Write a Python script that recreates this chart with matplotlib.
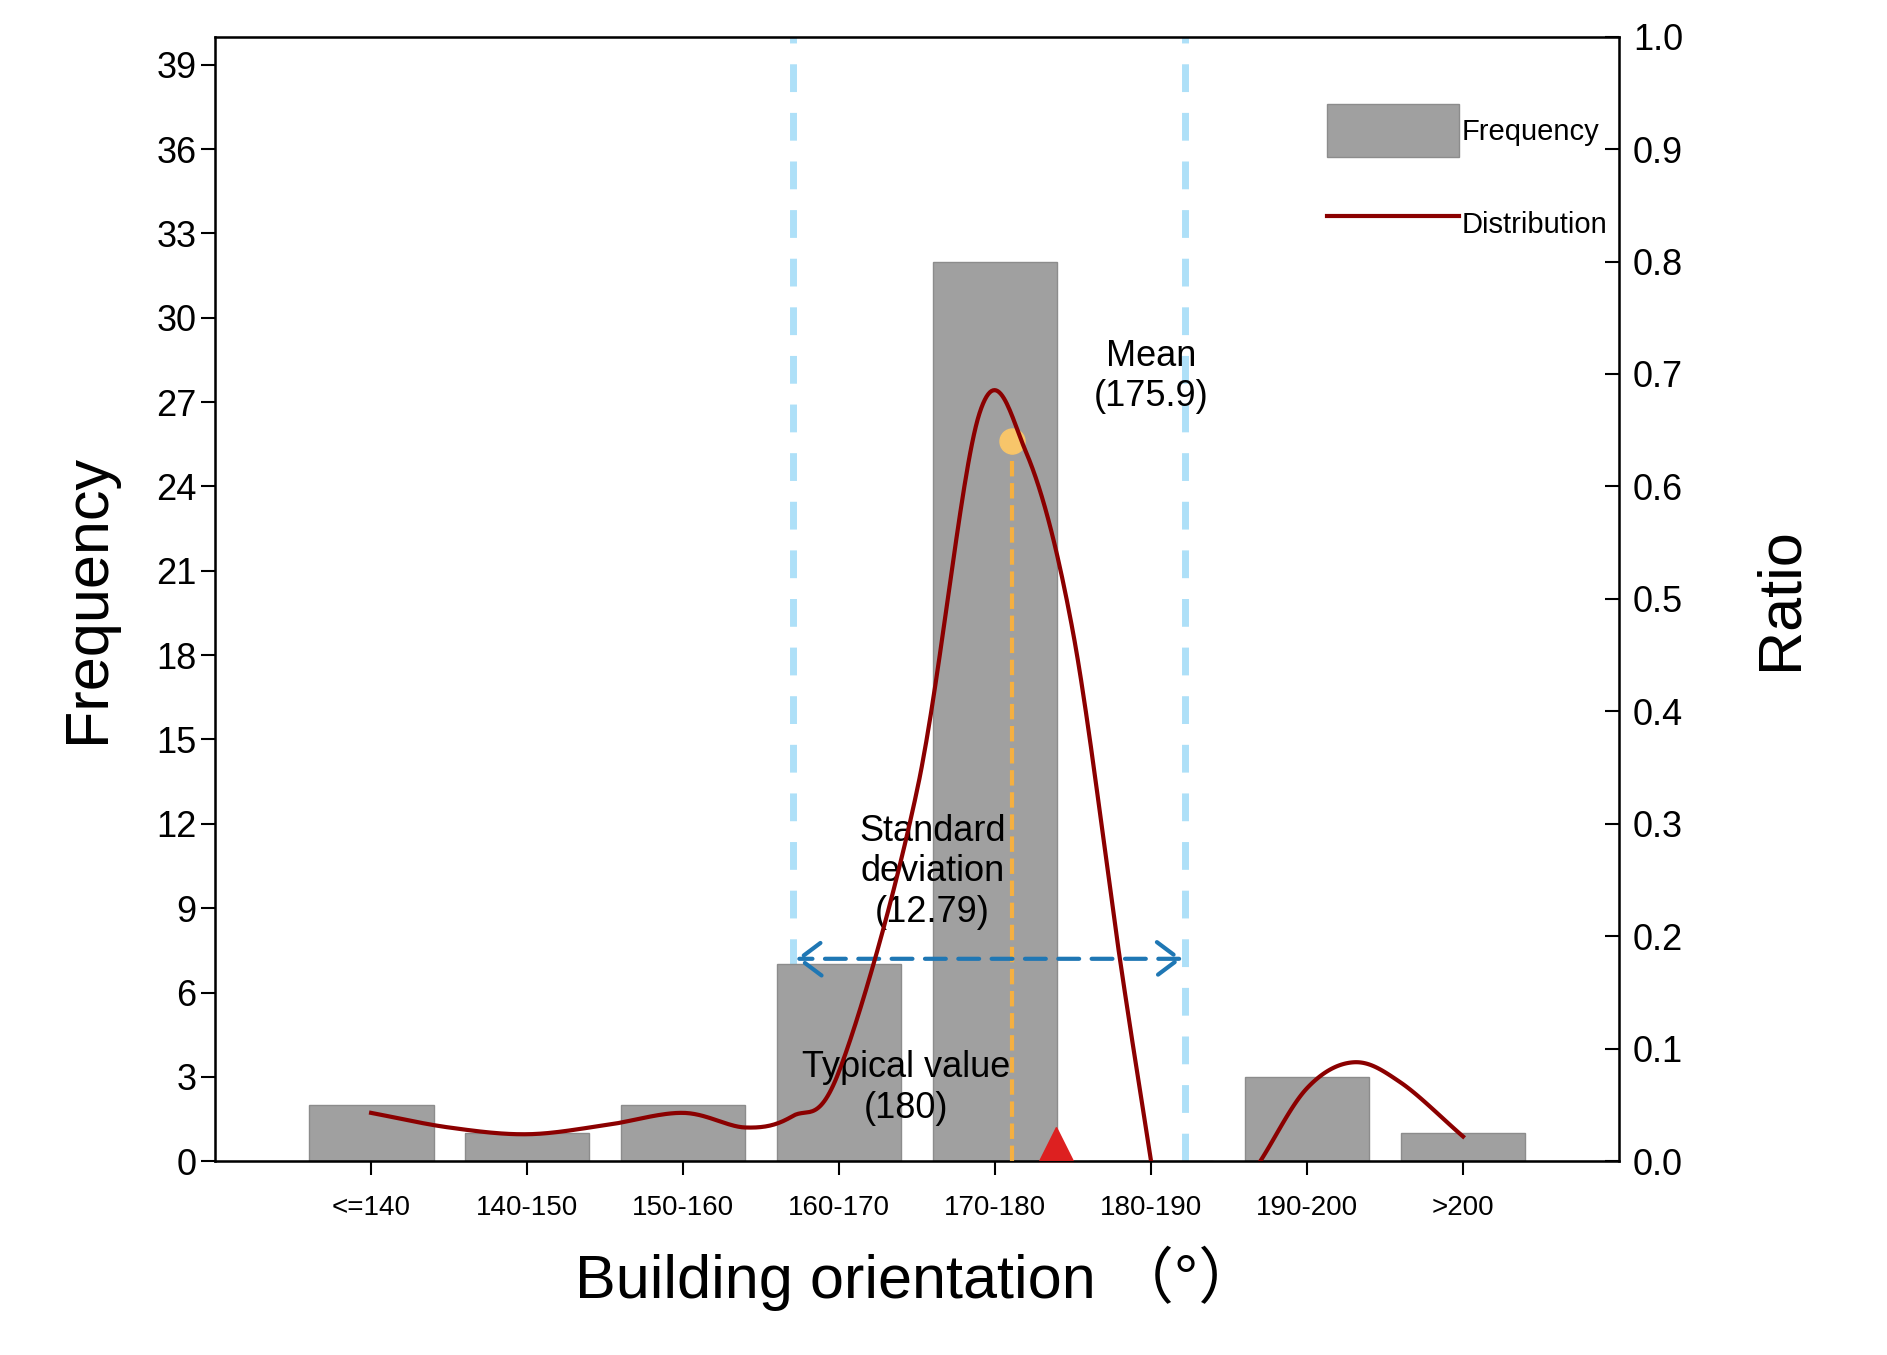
import matplotlib
matplotlib.use("Agg")
import matplotlib.pyplot as plt
import numpy as np
from matplotlib.patches import Patch
from matplotlib.lines import Line2D

plt.rcParams['font.family'] = ['Liberation Sans', 'DejaVu Sans']

categories = ["<=140", "140-150", "150-160", "160-170", "170-180", "180-190", "190-200", ">200"]
frequency = [2, 1, 2, 7, 32, 0, 3, 1]
# distribution curve knots (category position, ratio)
dist1_x = [0, 0.5, 1, 1.5, 2, 2.4, 2.7, 3, 3.5, 3.9, 4.2, 4.5, 4.8, 5.0]
dist1_y = [0.043, 0.030, 0.024, 0.032, 0.043, 0.030, 0.040, 0.080, 0.33, 0.665, 0.63, 0.47, 0.18, 0.0]
dist2_x = [5.7, 6.0, 6.3, 6.6, 7.0]
dist2_y = [0.0, 0.065, 0.088, 0.070, 0.022]
sd_lo, sd_hi = 2.705, 5.22
mean_x, mean_y = 4.11, 25.6
typical_x = 4.39

def smooth(xs, ys, n=30):
    xs = np.asarray(xs, float); ys = np.asarray(ys, float)
    px = np.concatenate([[2*xs[0]-xs[1]], xs, [2*xs[-1]-xs[-2]]])
    py = np.concatenate([[2*ys[0]-ys[1]], ys, [2*ys[-1]-ys[-2]]])
    ox, oy = [], []
    for i in range(1, len(px)-2):
        t = np.linspace(0, 1, n, endpoint=False)
        for arr, out in ((px, ox), (py, oy)):
            p0, p1, p2, p3 = arr[i-1], arr[i], arr[i+1], arr[i+2]
            out.extend(0.5*((2*p1) + (-p0+p2)*t + (2*p0-5*p1+4*p2-p3)*t**2 + (-p0+3*p1-3*p2+p3)*t**3))
    ox.append(xs[-1]); oy.append(ys[-1])
    return np.array(ox), np.array(oy)

fig = plt.figure(figsize=(18.87, 13.55), dpi=100)
ax = fig.add_axes([0.114, 0.143, 0.744, 0.830])
x = np.arange(len(categories))
ax.bar(x, frequency, width=0.8, color="#a0a0a0", edgecolor="#8c8c8c", zorder=2)
ax.set_xlim(-1, 8)
ax.set_ylim(0, 40)
ax.set_yticks(np.arange(0, 40, 3))
ax.set_xticks(x)
ax.set_xticklabels(categories, fontsize=20)
ax.tick_params(axis="y", labelsize=26, length=10, width=1.5)
ax.tick_params(axis="x", length=10, width=1.5, pad=14)
for s in ax.spines.values():
    s.set_linewidth(1.8)
ax.set_ylabel("Frequency", fontsize=44, labelpad=28)
ax.set_xlabel("Building orientation （°）", fontsize=44, labelpad=18,
              family=["Liberation Sans", "Noto Sans CJK SC", "DejaVu Sans"])

ax.axvline(sd_lo, color="#aee0f8", ls=(0, (4, 3)), lw=5, zorder=1)
ax.axvline(sd_hi, color="#aee0f8", ls=(0, (4, 3)), lw=5, zorder=1)
ax.plot([mean_x, mean_x], [0, mean_y], color="#f5b041", ls="--", lw=3, zorder=3)
ax.plot(mean_x, mean_y, "o", color="#f7c56a", ms=18, zorder=5)
ax.plot(typical_x, 0.6, "^", color="#dd2020", ms=24, zorder=5, clip_on=False)
ax.annotate("", xy=(sd_lo, 7.2), xytext=(sd_hi, 7.2),
            arrowprops=dict(arrowstyle="<->,head_length=0.8,head_width=0.6", color="#1f77b4",
                            lw=3, ls=(0, (5, 3)), mutation_scale=20), zorder=4)
ax.text(5.0, 27.9, "Mean\n(175.9)", fontsize=26, ha="center", va="center", zorder=6)
ax.text(3.6, 10.3, "Standard\ndeviation\n(12.79)", fontsize=26, ha="center", va="center", zorder=6)
ax.text(3.43, 2.6, "Typical value\n(180)", fontsize=26, ha="center", va="center", zorder=6)

ax2 = ax.twinx()
ax2.set_ylim(0, 1.0)
ax2.set_yticks(np.arange(0, 1.01, 0.1))
ax2.set_yticklabels([f"{v:.1f}" for v in np.arange(0, 1.01, 0.1)])
ax2.tick_params(axis="y", labelsize=26, length=10, width=1.5, direction="in", pad=10)
ax2.set_ylabel("Ratio", fontsize=44, labelpad=50)
for xs, ys in ((dist1_x, dist1_y), (dist2_x, dist2_y)):
    sx, sy = smooth(xs, ys)
    ax2.plot(sx, np.clip(sy, 0, None), color="#8b0000", lw=3, zorder=4)

handles = [Patch(facecolor="#a0a0a0", edgecolor="#8c8c8c"),
           Line2D([0], [0], color="#8b0000", lw=3)]
ax2.legend(handles, ["Frequency", "Distribution"], loc="upper right", frameon=False,
           fontsize=21, handlelength=4.5, handleheight=2.4, borderaxespad=0.0,
           bbox_to_anchor=(1.0, 0.95), labelspacing=1.4, handletextpad=0.1)
fig.savefig("out.png", dpi=100)
